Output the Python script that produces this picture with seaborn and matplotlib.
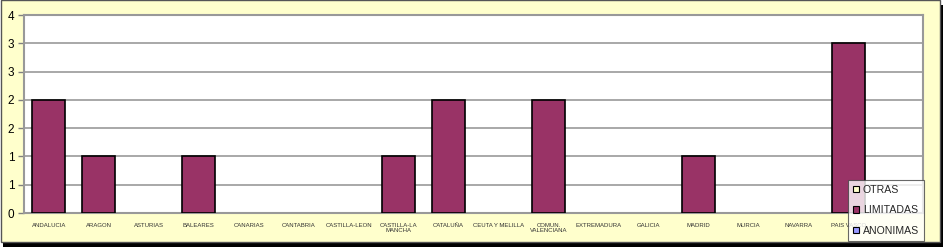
import matplotlib
matplotlib.use("Agg")
import matplotlib.pyplot as plt
import matplotlib.patches as mpatches
import seaborn as sns
import pandas as pd

categories = ["ANDALUCIA", "ARAGON", "ASTURIAS", "BALEARES", "CANARIAS", "CANTABRIA",
              "CASTILLA-LEON", "CASTILLA-LA\nMANCHA", "CATALUÑA", "CEUTA Y MELILLA",
              "COMUN.\nVALENCIANA", "EXTREMADURA", "GALICIA", "MADRID", "MURCIA",
              "NAVARRA", "PAIS VASCO", " "]
otras = [0, 0, 0, 0, 0, 0, 0, 0, 0, 0, 0, 0, 0, 0, 0, 0, 0, 0]
limitadas = [2, 1, 0, 1, 0, 0, 0, 1, 2, 0, 2, 0, 0, 1, 0, 0, 3, 0]
anonimas = [0, 0, 0, 0, 0, 0, 0, 0, 0, 0, 0, 0, 0, 0, 0, 0, 0, 0]
y_ticks = [0, 0.5, 1, 1.5, 2, 2.5, 3, 3.5]
y_tick_labels = ["0", "1", "1", "2", "2", "3", "3", "4"]
series_names = ["OTRAS", "LIMITADAS", "ANONIMAS"]
series_colors = ["#FFFFCC", "#993366", "#9999FF"]

sns.set_style("white")
plt.rcParams["font.family"] = ["Liberation Sans", "DejaVu Sans"]

W, H = 944, 247
fig = plt.figure(figsize=(W / 100, H / 100), dpi=100)
fig.patch.set_facecolor("white")

# chart area with shadow
fig.patches.append(mpatches.Rectangle((3 / W, 0), 940 / W, 242 / H, transform=fig.transFigure,
                                      facecolor="black", edgecolor="none", zorder=-3))
fig.patches.append(mpatches.Rectangle((0.5 / W, 5 / H), 939 / W, 241.5 / H, transform=fig.transFigure,
                                      facecolor="#FFFFCC", edgecolor="#555555", linewidth=1, zorder=-2))

left, right, top, bottom = 24, 923, 15, 213
ax = fig.add_axes([left / W, 1 - bottom / H, (right - left) / W, (bottom - top) / H])
ax.set_zorder(1)
ax.set_facecolor("white")

df = pd.DataFrame({"Comunidad": categories, "LIMITADAS": limitadas})
sns.barplot(data=df, x="Comunidad", y="LIMITADAS", color=series_colors[1], saturation=1,
            width=0.66, edgecolor="black", linewidth=1.2, ax=ax, zorder=3)
for p in ax.patches:
    if p.get_height() == 0:
        p.set_linewidth(0)

ax.set_ylim(0, 3.5)
ax.set_xlim(-0.5, len(categories) - 0.5)
ax.set_yticks(y_ticks)
ax.set_yticklabels(y_tick_labels, fontsize=8.5, color="black")
ax.set_xticks(range(len(categories)))
ax.set_xticklabels(categories, fontsize=4.3, color="#333333", linespacing=1.0)
ax.tick_params(axis="y", length=4, width=1, color="#808080", pad=3, left=True)
ax.tick_params(axis="x", length=0, pad=7)
ax.set_xlabel("")
ax.set_ylabel("")
ax.yaxis.grid(True, color="#999999", linewidth=1.2, zorder=0)
ax.set_axisbelow(True)
for side in ["top", "right", "left", "bottom"]:
    ax.spines[side].set_visible(True)
    ax.spines[side].set_color("#999999")
    ax.spines[side].set_linewidth(1.5)

handles = [mpatches.Patch(facecolor=c, edgecolor="black", linewidth=0.8, label=n)
           for n, c in zip(series_names, series_colors)]
leg = fig.legend(handles=handles, loc="upper left", bbox_to_anchor=(848 / W, 1 - 180 / H),
                 frameon=True, fancybox=False, fontsize=7.6, handlelength=0.6, handleheight=0.6,
                 handletextpad=0.35, borderpad=0.45, labelspacing=1.0, borderaxespad=0)
leg.get_frame().set_edgecolor("#444444")
leg.get_frame().set_linewidth(0.8)
leg.set_zorder(10)

fig.savefig("out.png", dpi=100, facecolor=fig.get_facecolor())
